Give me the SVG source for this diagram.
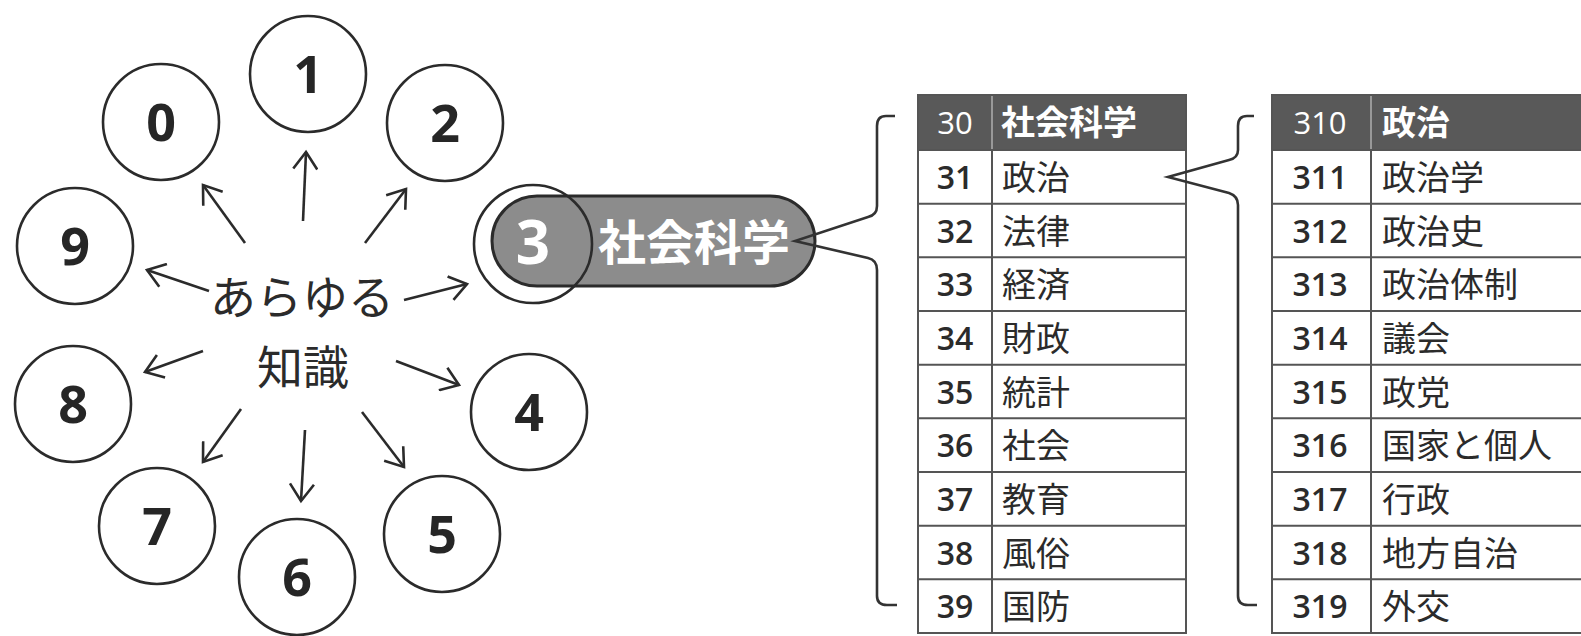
<svg xmlns="http://www.w3.org/2000/svg" width="1581" height="636" viewBox="0 0 1581 636">
<style>
.c{fill:none;stroke:#2b2b2b;stroke-width:2.6}
.d{font-family:"Open Sans","Noto Sans",sans-serif;font-weight:700;font-size:52px;fill:#262626;text-anchor:middle}
.ln{fill:none;stroke:#2b2b2b;stroke-width:2.6;marker-end:url(#ah)}
.ctr{font-family:"Noto Sans CJK JP",sans-serif;font-size:46px;fill:#2b2b2b;text-anchor:middle}
.br{fill:none;stroke:#333;stroke-width:2.6;stroke-linejoin:miter}
.tb{fill:#fff;stroke:#555;stroke-width:2}
.hd{fill:#595959;stroke:#555;stroke-width:2}
.num{font-family:"Open Sans","Noto Sans",sans-serif;font-weight:600;font-size:32px;fill:#2b2b2b;text-anchor:middle}
.txt{font-family:"Noto Sans CJK JP",sans-serif;font-size:34px;fill:#2b2b2b}
.hn{font-family:"Open Sans","Noto Sans",sans-serif;font-size:31px;fill:#fff;text-anchor:middle}
.ht{font-family:"Noto Sans CJK JP",sans-serif;font-weight:700;font-size:34px;fill:#fff}
.rl{stroke:#555;stroke-width:2}
</style>
<defs>
<marker id="ah" markerUnits="userSpaceOnUse" markerWidth="26" markerHeight="26" viewBox="0 0 26 26" refX="22" refY="13" orient="auto">
<path d="M5,1 L22,13 L5,25" fill="none" stroke="#2b2b2b" stroke-width="2.6"/>
</marker>
</defs>
<rect width="1581" height="636" fill="#fff"/>

<g id="connectors">
<line class="ln" x1="303" y1="221" x2="306" y2="152"/>
<line class="ln" x1="245" y1="243" x2="203" y2="185"/>
<line class="ln" x1="365" y1="243" x2="406" y2="189"/>
<line class="ln" x1="209" y1="291" x2="147" y2="270"/>
<line class="ln" x1="404" y1="300" x2="467" y2="284"/>
<line class="ln" x1="203" y1="351" x2="145" y2="372"/>
<line class="ln" x1="396" y1="361" x2="459" y2="385"/>
<line class="ln" x1="241" y1="409" x2="203" y2="462"/>
<line class="ln" x1="305" y1="430" x2="301" y2="501"/>
<line class="ln" x1="362" y1="412" x2="404" y2="467"/>
</g>

<g id="center"><text class="ctr" x="302" y="314">あらゆる</text><text class="ctr" x="303" y="384">知識</text></g>

<g id="n0"><circle class="c" cx="161" cy="122" r="58"/><text class="d" x="161" y="141">0</text></g>
<g id="n1"><circle class="c" cx="308" cy="74" r="58"/><text class="d" x="308" y="93">1</text></g>
<g id="n2"><circle class="c" cx="445" cy="123" r="58"/><text class="d" x="445" y="142">2</text></g>
<g id="n9"><circle class="c" cx="75" cy="246" r="58"/><text class="d" x="75" y="265">9</text></g>
<g id="n8"><circle class="c" cx="73" cy="404" r="58"/><text class="d" x="73" y="423">8</text></g>
<g id="n7"><circle class="c" cx="157" cy="526" r="58"/><text class="d" x="157" y="545">7</text></g>
<g id="n6"><circle class="c" cx="297" cy="577" r="58"/><text class="d" x="297" y="596">6</text></g>
<g id="n5"><circle class="c" cx="442" cy="534" r="58"/><text class="d" x="442" y="553">5</text></g>
<g id="n4"><circle class="c" cx="529" cy="412" r="58"/><text class="d" x="529" y="431">4</text></g>

<g id="n3">
<rect x="492" y="196" width="323" height="90" rx="45" fill="#8c8c8c" stroke="#2b2b2b" stroke-width="3"/>
<text x="533" y="264" font-family="Open Sans,Noto Sans,sans-serif" font-weight="700" font-size="60" fill="#fff" text-anchor="middle">3</text>
<text x="598" y="260" font-family="Noto Sans CJK JP,sans-serif" font-weight="700" font-size="48" fill="#fff">社会科学</text>
<circle class="c" cx="533" cy="244" r="59"/>
</g>

<g id="table30">
<rect class="tb" x="918" y="95" width="268" height="538"/>
<rect class="hd" x="918" y="95" width="268" height="55"/>
<line x1="992" y1="96" x2="992" y2="149" stroke="#999" stroke-width="2"/>
<line class="rl" x1="992" y1="150" x2="992" y2="633"/>
<line class="rl" x1="918" y1="203.7" x2="1186" y2="203.7"/>
<line class="rl" x1="918" y1="257.3" x2="1186" y2="257.3"/>
<line class="rl" x1="918" y1="311" x2="1186" y2="311"/>
<line class="rl" x1="918" y1="364.7" x2="1186" y2="364.7"/>
<line class="rl" x1="918" y1="418.3" x2="1186" y2="418.3"/>
<line class="rl" x1="918" y1="472" x2="1186" y2="472"/>
<line class="rl" x1="918" y1="525.7" x2="1186" y2="525.7"/>
<line class="rl" x1="918" y1="579.3" x2="1186" y2="579.3"/>
<text class="hn" x="955" y="134">30</text><text class="ht" x="1001" y="135">社会科学</text>
<text class="num" x="955" y="189">31</text><text class="txt" x="1002" y="190">政治</text>
<text class="num" x="955" y="243">32</text><text class="txt" x="1002" y="244">法律</text>
<text class="num" x="955" y="296">33</text><text class="txt" x="1002" y="297">経済</text>
<text class="num" x="955" y="350">34</text><text class="txt" x="1002" y="351">財政</text>
<text class="num" x="955" y="404">35</text><text class="txt" x="1002" y="405">統計</text>
<text class="num" x="955" y="457">36</text><text class="txt" x="1002" y="458">社会</text>
<text class="num" x="955" y="511">37</text><text class="txt" x="1002" y="512">教育</text>
<text class="num" x="955" y="565">38</text><text class="txt" x="1002" y="566">風俗</text>
<text class="num" x="955" y="618">39</text><text class="txt" x="1002" y="619">国防</text>
</g>

<g id="table310">
<rect class="tb" x="1272" y="95" width="330" height="538"/>
<rect class="hd" x="1272" y="95" width="330" height="55"/>
<line x1="1371" y1="96" x2="1371" y2="149" stroke="#999" stroke-width="2"/>
<line class="rl" x1="1371" y1="150" x2="1371" y2="633"/>
<line class="rl" x1="1272" y1="203.7" x2="1602" y2="203.7"/>
<line class="rl" x1="1272" y1="257.3" x2="1602" y2="257.3"/>
<line class="rl" x1="1272" y1="311" x2="1602" y2="311"/>
<line class="rl" x1="1272" y1="364.7" x2="1602" y2="364.7"/>
<line class="rl" x1="1272" y1="418.3" x2="1602" y2="418.3"/>
<line class="rl" x1="1272" y1="472" x2="1602" y2="472"/>
<line class="rl" x1="1272" y1="525.7" x2="1602" y2="525.7"/>
<line class="rl" x1="1272" y1="579.3" x2="1602" y2="579.3"/>
<text class="hn" x="1320" y="134">310</text><text class="ht" x="1382" y="135">政治</text>
<text class="num" x="1320" y="189">311</text><text class="txt" x="1382" y="190">政治学</text>
<text class="num" x="1320" y="243">312</text><text class="txt" x="1382" y="244">政治史</text>
<text class="num" x="1320" y="296">313</text><text class="txt" x="1382" y="297">政治体制</text>
<text class="num" x="1320" y="350">314</text><text class="txt" x="1382" y="351">議会</text>
<text class="num" x="1320" y="404">315</text><text class="txt" x="1382" y="405">政党</text>
<text class="num" x="1320" y="457">316</text><text class="txt" x="1382" y="458">国家と個人</text>
<text class="num" x="1320" y="511">317</text><text class="txt" x="1382" y="512">行政</text>
<text class="num" x="1320" y="565">318</text><text class="txt" x="1382" y="566">地方自治</text>
<text class="num" x="1320" y="618">319</text><text class="txt" x="1382" y="619">外交</text>
</g>

<g id="brackets">
<path class="br" d="M895,116 L886,116 Q877,116 877,126 L877,206 Q877,215 868,217 L795,241 L868,258 Q877,260 877,270 L877,596 Q877,605 887,605 L897,605"/>
<path class="br" d="M1254,116 L1247,116 Q1238,116 1238,126 L1238,150 Q1238,158 1229,160 L1168,177 L1229,193 Q1238,196 1238,205 L1238,596 Q1238,605 1248,605 L1257,605"/>
</g>
</svg>
